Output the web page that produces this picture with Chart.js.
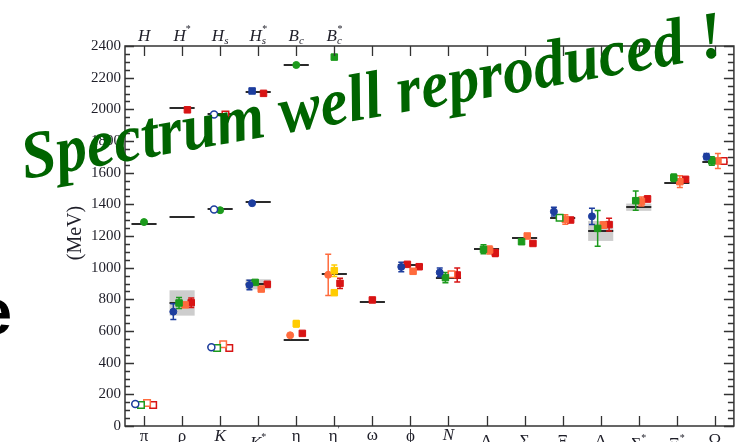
<!DOCTYPE html>
<html>
<head>
<meta charset="utf-8">
<script src="https://cdn.jsdelivr.net/npm/chart.js@4.4.1/dist/chart.umd.min.js"></script>
<style>
  html, body { margin: 0; padding: 0; background: #fff; overflow: hidden; width: 737px; height: 442px; }
  canvas { display: block; }
</style>
</head>
<body>
<canvas id="c" width="740" height="442"></canvas>
<script>
// ---- hadron categories (bottom axis) and heavy-meson categories (top axis)
const categories = ['π', 'ρ', 'K', 'K*', 'η', 'η′', 'ω', 'φ', 'N', 'Λ', 'Σ', 'Ξ', 'Δ', 'Σ*', 'Ξ*', 'Ω'];
const heavyCategories = ['H', 'H*', 'Hs', 'Hs*', 'Bc', 'Bc*'];
const yTicks = [0, 200, 400, 600, 800, 1000, 1200, 1400, 1600, 1800, 2000, 2200, 2400];

// ---- experimental masses (MeV) and resonance half-widths
const experiment = [137, 777, 497, 895, 545, 960, 785, 1017, 937, 1116, 1190, 1314, 1232, 1382, 1532, 1667];
const resonanceHalfWidth = [null, 80, null, 32, null, null, null, null, null, null, null, null, 63, 23, null, null];
const heavyExperimentLow = [1276, 1322, 1368, 1412, null, null];
const heavyExperimentHigh = [null, 2008, 1968, 2112, 2281, null];

// ---- lattice results (MeV) with errors
const blueMass = [139, 722, 497, 890, null, null, null, 1005, 970, null, null, 1354, 1324, null, null, 1701];
const blueErr = [0, 50, 0, 30, 0, 0, 0, 30, 28, 0, 0, 27, 52, 0, 0, 20];
const greenMass = [133, 777, 493, 907, null, null, null, null, 937, 1116, 1164, 1316, 1248, 1423, 1568, 1674];
const greenErr = [0, 35, 0, 10, 0, 0, 0, 0, 33, 28, 15, 0, 113, 61, 24, 27];
const orangeMass = [145, 765, 516, 865, 573, 955, null, 977, 958, 1112, 1200, 1305, 1269, 1418, 1543, 1674];
const orangeErr = [0, 12, 0, 10, 0, 130, 0, 12, 10, 25, 12, 30, 20, 28, 37, 47];
const redMass = [133, 779, 493, 895, 585, 901, 796, 1006, 954, 1092, 1153, 1301, 1272, 1434, 1558, 1674];
const redErr = [0, 30, 0, 8, 10, 32, 8, 0, 44, 22, 12, 8, 40, 18, 10, 0];
const crimsonMass = [null, null, null, null, null, null, null, 1021, null, null, null, null, null, null, null, null];
const crimsonErr = [0, 0, 0, 0, 0, 0, 0, 10, 0, 0, 0, 0, 0, 0, 0, 0];
const yellowMass = [null, null, null, null, 646, 981, null, null, null, null, null, null, null, null, null, null];
const yellowErr = [0, 0, 0, 0, 20, 36, 0, 0, 0, 0, 0, 0, 0, 0, 0, 0];
const yellowMass2 = [null, null, null, null, null, 842, null, null, null, null, null, null, null, null, null, null];

// heavy mesons
const heavyBlueLow = [null, null, 1368, 1407, null, null];
const heavyBlueHigh = [null, null, 1968, 2116, null, null];
const heavyGreen = [1288, null, 1363, null, 2280, 2330];
const heavyRed = [null, 1997, 1968, 2101, null, null];

// ---- marker styles: c filled circle, o open circle, s filled square, q open square
const blueShape = ['o', 'c', 'o', 'c', 'c', 'c', 'c', 'c', 'c', 'c', 'c', 'c', 'c', 'c', 'c', 'c'];
const greenShape = ['q', 's', 'q', 's', 's', 's', 's', 's', 's', 's', 's', 'q', 's', 's', 's', 's'];
const orangeShape = ['q', 's', 'q', 's', 'c', 'c', 's', 's', 'q', 's', 's', 's', 's', 's', 's', 's'];
const redShape = ['q', 's', 'q', 's', 's', 's', 's', 's', 's', 's', 's', 's', 's', 's', 's', 'q'];
const heavyBlueLowShape = ['c', 'c', 'o', 'c', 'c', 'c'];
const heavyBlueHighShape = ['c', 'c', 'o', 's', 'c', 'c'];
const heavyGreenShape = ['c', 'c', 'c', 'c', 'c', 's'];
const heavyRedShape = ['s', 's', 'q', 's', 's', 's'];

// horizontal offsets within a category (in category units)
const blueShift = [-0.23, -0.23, -0.23, -0.23, 0, 0, 0, -0.24, -0.23, 0, 0, -0.23, -0.23, 0, 0, -0.22];
const greenShift = Array(16).fill(-0.08);
const orangeShift = [0.08, 0.08, 0.08, 0.08, -0.16, -0.16, 0, 0.07, 0.08, 0.08, 0.07, 0.07, 0.07, 0.07, 0.08, 0.08];
const redShift = [0.24, 0.24, 0.24, 0.24, 0.16, 0.15, 0, 0.23, 0.23, 0.23, 0.22, 0.21, 0.22, 0.23, 0.23, 0.23];

const COLORS = {
  blue: '#1d3d9e', green: '#1c9a1c', orange: '#ff6b3d', red: '#d81414',
  yellow: '#ffcc00', line: '#2a2a2a', box: '#cdcdcd', axis: '#333333', text: '#1e1e28'
};

function buildDataset(values, errs, shapes, shifts, color, defShape) {
  const pts = [];
  values.forEach((v, i) => {
    if (v === null || v === undefined) return;
    pts.push({
      x: i + 1 + (Array.isArray(shifts) ? shifts[i] : shifts),
      y: v,
      e: errs ? errs[i] : 0,
      shape: shapes ? shapes[i] : defShape
    });
  });
  const isSquare = ctx => ctx.raw && (ctx.raw.shape === 's' || ctx.raw.shape === 'q');
  const isOpen = ctx => ctx.raw && (ctx.raw.shape === 'o' || ctx.raw.shape === 'q');
  return {
    data: pts,
    errColor: color,
    pointStyle: ctx => isSquare(ctx) ? 'rect' : 'circle',
    pointRadius: ctx => isSquare(ctx) ? 4.6 : 3.5,
    backgroundColor: ctx => isOpen(ctx) ? '#ffffff' : color,
    borderColor: color,
    borderWidth: ctx => isOpen(ctx) ? 1.5 : 1,
    pointHoverRadius: 0
  };
}

const datasets = [
  buildDataset(blueMass, blueErr, blueShape, blueShift, COLORS.blue),
  buildDataset(greenMass, greenErr, greenShape, greenShift, COLORS.green),
  buildDataset(yellowMass, yellowErr, null, 0, COLORS.yellow, 's'),
  buildDataset(yellowMass2, null, null, 0, COLORS.yellow, 's'),
  buildDataset(orangeMass, orangeErr, orangeShape, orangeShift, COLORS.orange),
  buildDataset(crimsonMass, crimsonErr, null, -0.08, COLORS.red, 's'),
  buildDataset(redMass, redErr, redShape, redShift, COLORS.red),
  buildDataset(heavyBlueLow, null, heavyBlueLowShape, -0.16, COLORS.blue),
  buildDataset(heavyBlueHigh, null, heavyBlueHighShape, -0.16, COLORS.blue),
  buildDataset(heavyGreen, null, heavyGreenShape, 0, COLORS.green),
  buildDataset(heavyRed, null, heavyRedShape, 0.14, COLORS.red)
];

// reference bands and experimental lines, error bars behind markers
const underlayPlugin = {
  id: 'underlay',
  beforeDatasetsDraw(chart) {
    const { ctx, scales: { x, y } } = chart;
    ctx.save();
    // resonance widths
    ctx.fillStyle = COLORS.box;
    experiment.forEach((m, i) => {
      const hw = resonanceHalfWidth[i];
      if (hw == null) return;
      const x0 = x.getPixelForValue(i + 1 - 0.33), x1 = x.getPixelForValue(i + 1 + 0.33);
      const y0 = y.getPixelForValue(m + hw), y1 = y.getPixelForValue(m - hw);
      ctx.fillRect(x0, y0, x1 - x0, y1 - y0);
    });
    // experimental masses
    ctx.strokeStyle = COLORS.line;
    ctx.lineWidth = 2;
    const hline = (i, m) => {
      if (m == null) return;
      const yy = Math.round(y.getPixelForValue(m));
      ctx.beginPath();
      ctx.moveTo(x.getPixelForValue(i + 1 - 0.33), yy);
      ctx.lineTo(x.getPixelForValue(i + 1 + 0.33), yy);
      ctx.stroke();
    };
    experiment.forEach((m, i) => hline(i, m));
    heavyExperimentLow.forEach((m, i) => hline(i, m));
    heavyExperimentHigh.forEach((m, i) => hline(i, m));
    // error bars
    ctx.lineWidth = 1.5;
    chart.data.datasets.forEach(ds => {
      ctx.strokeStyle = ds.errColor;
      ds.data.forEach(p => {
        if (!p.e) return;
        const xx = x.getPixelForValue(p.x);
        const yt = y.getPixelForValue(p.y + p.e), yb = y.getPixelForValue(p.y - p.e);
        ctx.beginPath();
        ctx.moveTo(xx, yt); ctx.lineTo(xx, yb);
        ctx.moveTo(xx - 3, yt); ctx.lineTo(xx + 3, yt);
        ctx.moveTo(xx - 3, yb); ctx.lineTo(xx + 3, yb);
        ctx.stroke();
      });
    });
    ctx.restore();
  }
};

function drawComposite(ctx, cx, baseline, main, sub, sup, italic, size) {
  const fam = '"Liberation Serif", "Times New Roman", serif';
  const mainFont = (italic ? 'italic ' : '') + size + 'px ' + fam;
  const smallFont = (italic ? 'italic ' : '') + Math.round(size * 0.66) + 'px ' + fam;
  const starFont = Math.round(size * 0.6) + 'px ' + fam;
  ctx.font = mainFont;
  const wm = ctx.measureText(main).width;
  ctx.font = smallFont;
  const ws = sub ? ctx.measureText(sub).width : 0;
  ctx.font = starFont;
  const wp = sup ? ctx.measureText(sup).width : 0;
  const total = wm + Math.max(ws, wp);
  const x0 = cx - total / 2;
  ctx.textAlign = 'left';
  ctx.textBaseline = 'alphabetic';
  ctx.font = mainFont;
  ctx.fillText(main, x0, baseline);
  if (sub) { ctx.font = smallFont; ctx.fillText(sub, x0 + wm, baseline + size * 0.22); }
  if (sup) { ctx.font = starFont; ctx.fillText(sup, x0 + wm + (sub ? ws * 0.1 : 0), baseline - size * 0.5); }
}

// slanted bold headline; shears the upright face when no bold-italic face is present
function drawHeadline(ctx, text, x0, y0, angleDeg, targetWidth, size) {
  const fam = '"Liberation Serif", "Times New Roman", serif';
  ctx.font = 'bold ' + size + 'px ' + fam;
  const wUpright = ctx.measureText(text).width;
  ctx.font = 'italic bold ' + size + 'px ' + fam;
  const wItalic = ctx.measureText(text).width;
  const hasItalic = Math.abs(wUpright - wItalic) > 2;
  const w = hasItalic ? wItalic : wUpright;
  ctx.save();
  ctx.translate(x0, y0);
  ctx.rotate(angleDeg * Math.PI / 180);
  if (!hasItalic) ctx.transform(1, 0, -0.21, 1, 0, 0);
  ctx.scale(targetWidth / w, 1);
  ctx.font = (hasItalic ? 'italic ' : '') + 'bold ' + size + 'px ' + fam;
  ctx.fillStyle = '#006400';
  ctx.textAlign = 'left';
  ctx.textBaseline = 'alphabetic';
  ctx.fillText(text, 0, 0);
  ctx.restore();
}

const axesPlugin = {
  id: 'frame',
  afterDraw(chart) {
    const { ctx, chartArea: a, scales: { x, y } } = chart;
    ctx.save();
    ctx.strokeStyle = COLORS.axis;
    ctx.lineWidth = 1.5;
    ctx.strokeRect(a.left, a.top, a.right - a.left, a.bottom - a.top);
    ctx.lineWidth = 1.3;
    ctx.beginPath();
    // category ticks top and bottom
    for (let i = 1; i <= categories.length; i++) {
      const xx = Math.round(x.getPixelForValue(i)) + 0.5;
      ctx.moveTo(xx, a.bottom); ctx.lineTo(xx, a.bottom - 10);
      ctx.moveTo(xx, a.top); ctx.lineTo(xx, a.top + 10);
    }
    // mass ticks left and right
    for (let v = 0; v <= 2400; v += 50) {
      const yy = Math.round(y.getPixelForValue(v)) + 0.5;
      const len = v % 200 === 0 ? 9 : 5;
      ctx.moveTo(a.left, yy); ctx.lineTo(a.left + len, yy);
      ctx.moveTo(a.right, yy); ctx.lineTo(a.right - len - 1, yy);
    }
    ctx.stroke();

    // category labels
    ctx.fillStyle = COLORS.text;
    const bottomSpec = {
      'π': [441, 'π', '', '', false], 'ρ': [441, 'ρ', '', '', false], 'K': [441, 'K', '', '', true],
      'K*': [448, 'K', '', '*', true], 'η': [441, 'η', '', '', false], 'η′': [441, 'η', '', '′', false],
      'ω': [440, 'ω', '', '', false], 'φ': [441, 'ϕ', '', '', false], 'N': [440, 'N', '', '', true],
      'Λ': [446, 'Λ', '', '', false], 'Σ': [446, 'Σ', '', '', false], 'Ξ': [446, 'Ξ', '', '', false],
      'Δ': [446, 'Δ', '', '', false], 'Σ*': [449, 'Σ', '', '*', false], 'Ξ*': [449, 'Ξ', '', '*', false],
      'Ω': [445, 'Ω', '', '', false]
    };
    categories.forEach((c, i) => {
      const s = bottomSpec[c];
      drawComposite(ctx, x.getPixelForValue(i + 1), s[0], s[1], s[2], s[3], s[4], 17);
    });
    const topSpec = {
      'H': ['H', '', ''], 'H*': ['H', '', '*'], 'Hs': ['H', 's', ''],
      'Hs*': ['H', 's', '*'], 'Bc': ['B', 'c', ''], 'Bc*': ['B', 'c', '*']
    };
    heavyCategories.forEach((c, i) => {
      const s = topSpec[c];
      drawComposite(ctx, x.getPixelForValue(i + 1), 40.5, s[0], s[1], s[2], true, 17);
    });

    // axis title
    ctx.save();
    ctx.translate(76, 233);
    ctx.rotate(-Math.PI / 2);
    ctx.font = '20px "Liberation Serif", serif';
    ctx.textAlign = 'center';
    ctx.textBaseline = 'middle';
    ctx.fillText('(MeV)', 0, 0);
    ctx.restore();

    // slide fragment at the left edge
    ctx.fillStyle = '#000';
    ctx.font = 'bold 64px "Liberation Sans", Arial, sans-serif';
    ctx.textAlign = 'right';
    ctx.textBaseline = 'alphabetic';
    ctx.fillText('e', 12, 334);

    drawHeadline(ctx, 'Spectrum well reproduced !', 25, 179, -10, 712, 67);
    ctx.restore();
  }
};

const chart = new Chart(document.getElementById('c'), {
  type: 'scatter',
  data: { datasets },
  options: {
    responsive: false,
    animation: false,
    devicePixelRatio: 1,
    events: [],
    layout: { padding: { left: 0, right: 2, top: 0, bottom: 0 } },
    plugins: { legend: { display: false }, tooltip: { enabled: false } },
    scales: {
      x: {
        type: 'linear', position: 'bottom', min: 0.5, max: categories.length + 0.5,
        grid: { display: false, drawTicks: false }, border: { display: false },
        ticks: { display: false },
        afterFit(s) { s.height = 16; }
      },
      xTop: {
        type: 'linear', position: 'top', min: 0.5, max: categories.length + 0.5,
        grid: { display: false, drawTicks: false }, border: { display: false },
        ticks: { display: false },
        afterFit(s) { s.height = 46; }
      },
      y: {
        type: 'linear', position: 'left', min: yTicks[0], max: yTicks[yTicks.length - 1],
        grid: { display: false, drawTicks: false }, border: { display: false },
        afterBuildTicks(s) { s.ticks = yTicks.map(v => ({ value: v })); },
        ticks: {
          callback: v => String(v),
          color: COLORS.text, padding: 4,
          font: { family: '"Liberation Serif", "Times New Roman", serif', size: 15 }
        },
        afterFit(s) { s.width = 125; }
      }
    }
  },
  plugins: [underlayPlugin, axesPlugin]
});
</script>
</body>
</html>
